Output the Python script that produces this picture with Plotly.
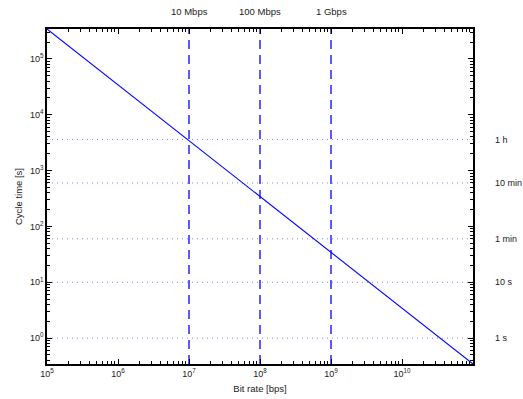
import math
import plotly.graph_objects as go

# Sequence-space wrap time versus link bit rate
bit_rate = [1e5, 1e6, 1e7, 1e8, 1e9, 1e10, 1e11]
cycle_time = [343600, 34360, 3436, 343.6, 34.36, 3.436, 0.3436]

# Reference link speeds (vertical markers) and their labels
link_rates = [1e7, 1e8, 1e9]
link_labels = ["10 Mbps", "100 Mbps", "1 Gbps"]

# Reference durations (horizontal markers) and their labels
durations = [1, 10, 60, 600, 3600]
duration_labels = ["1 s", "10 s", "1 min", "10 min", "1 h"]

# Decade tick positions
x_ticks = [1e5, 1e6, 1e7, 1e8, 1e9, 1e10]
y_ticks = [1, 10, 100, 1e3, 1e4, 1e5]

x_min, x_max = 1e5, 1e11
y_min, y_max = 0.3436, 343600

font = "Liberation Sans, Arial, sans-serif"


def power_label(v):
    return "10<sup>%d</sup>" % round(math.log10(v))


def minor_vals(lo_exp, hi_exp):
    return [m * 10 ** e for e in range(lo_exp, hi_exp) for m in range(2, 10)]


fig = go.Figure()

for d in durations:
    fig.add_trace(go.Scatter(
        x=[x_min, x_max], y=[d, d], mode="lines",
        line=dict(color="#8080ff", width=1, dash="1px,4px"),
        hoverinfo="skip", showlegend=False))

for r in link_rates:
    fig.add_trace(go.Scatter(
        x=[r, r], y=[y_min, y_max], mode="lines",
        line=dict(color="#5a5aff", width=2, dash="9px,6px"),
        hoverinfo="skip", showlegend=False))

fig.add_trace(go.Scatter(
    x=bit_rate, y=cycle_time, mode="lines",
    line=dict(color="#0000ff", width=1.1), showlegend=False))

for r, lab in zip(link_rates, link_labels):
    fig.add_annotation(x=math.log10(r), y=1, xref="x", yref="paper",
                       yanchor="bottom", yshift=10, text=lab, showarrow=False,
                       font=dict(family=font, size=9.5, color="#222"))

for d, lab in zip(durations, duration_labels):
    fig.add_annotation(x=1, y=math.log10(d), xref="paper", yref="y",
                       xanchor="left", xshift=20, text=lab, showarrow=False,
                       font=dict(family=font, size=9, color="#222"))

axis_common = dict(
    type="log", showgrid=False, zeroline=False, automargin=False,
    showline=True, linecolor="black", linewidth=1.5,
    ticks="inside", ticklen=5, tickcolor="black", mirror="allticks",
    tickfont=dict(family=font, size=9, color="#222"),
)

fig.update_xaxes(
    **axis_common,
    range=[math.log10(x_min), math.log10(x_max)],
    tickmode="array", tickvals=x_ticks,
    ticktext=[power_label(v) for v in x_ticks],
    minor=dict(tickmode="array", tickvals=minor_vals(5, 11),
               ticks="inside", ticklen=3, tickcolor="black", showgrid=False),
    title=dict(text="Bit rate [bps]", standoff=8,
               font=dict(family=font, size=9.5, color="#222")),
)
fig.update_yaxes(
    **axis_common,
    range=[math.log10(y_min), math.log10(y_max)],
    tickmode="array", tickvals=y_ticks,
    ticktext=[power_label(v) for v in y_ticks],
    minor=dict(tickmode="array", tickvals=minor_vals(-1, 6),
               ticks="inside", ticklen=3, tickcolor="black", showgrid=False),
    title=dict(text="Cycle time [s]", standoff=6,
               font=dict(family=font, size=9.5, color="#222")),
)

fig.update_layout(
    width=523, height=399,
    margin=dict(l=47, r=50, t=29, b=35),
    paper_bgcolor="white", plot_bgcolor="white",
)

fig.write_html("out.html")
